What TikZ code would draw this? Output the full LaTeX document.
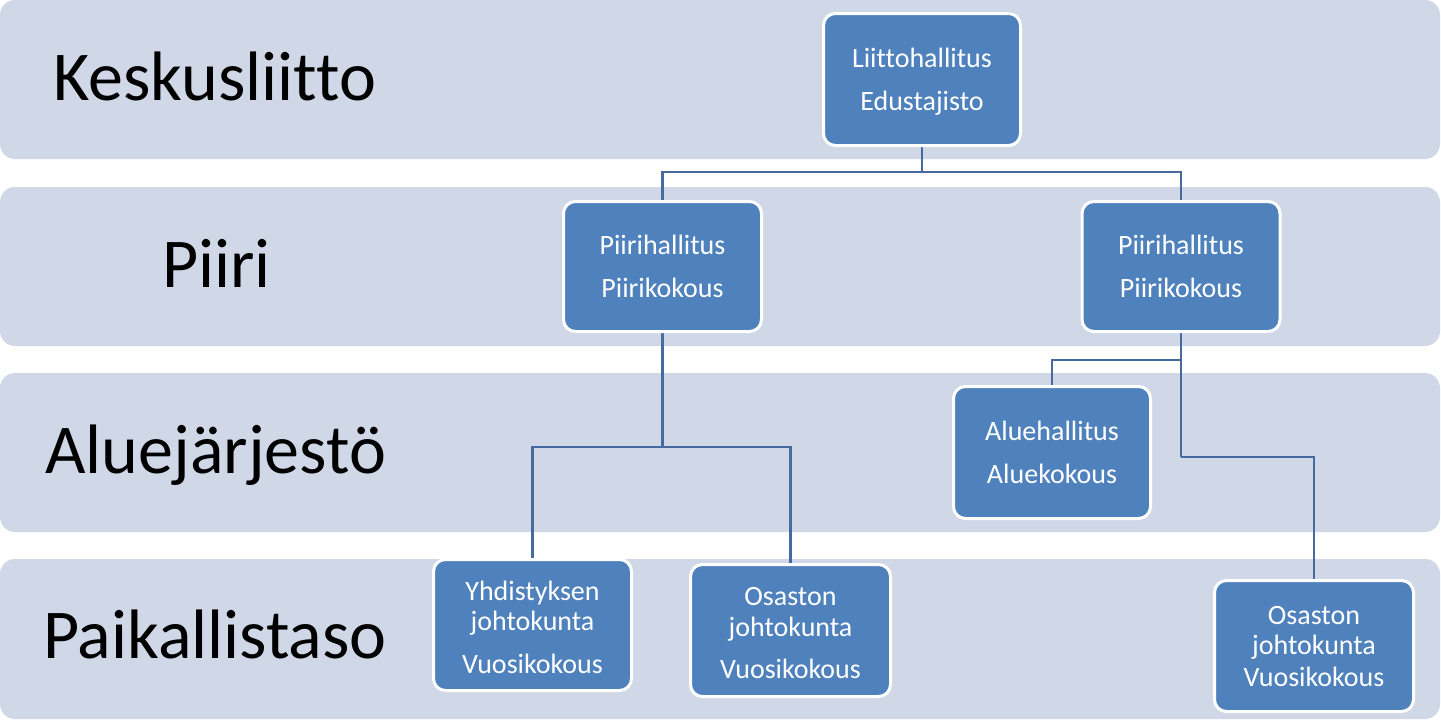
\documentclass[tikz,border=0pt]{standalone}
\usepackage{fontspec}
\setmainfont{Carlito}[Ligatures={NoCommon,NoRequired}]
\pgfdeclarelayer{bands}
\pgfdeclarelayer{links}
\pgfsetlayers{bands,links,main}
\definecolor{bandfill}{HTML}{D0D8E8}
\definecolor{boxfill}{HTML}{4F81BD}
\definecolor{linkcol}{HTML}{46699F}
\newcommand\capst{\rule{0pt}{18pt}}
\newcommand\capstb{\rule{0pt}{23pt}}
\begin{document}
\begin{tikzpicture}[x=1pt,y=-1pt,
  band/.style={fill=bandfill,rounded corners=15pt},
  orgbox/.style={draw=white,line width=3pt,fill=boxfill,rounded corners=12pt,
    text=white,align=center,font=\fontsize{28}{30}\selectfont,inner sep=0pt},
  levellabel/.style={anchor=base west,font=\fontsize{70}{82}\selectfont,inner sep=0pt},
  link/.style={draw=linkcol,line width=2.6pt}]
\useasboundingbox (0,0) rectangle (1441,720);
\begin{pgfonlayer}{bands}
  \fill[band] (0,0) rectangle (1440,159);
  \fill[band] (0,187) rectangle (1440,346);
  \fill[band] (0,373) rectangle (1440,532);
  \fill[band] (0,559) rectangle (1440,719);
\end{pgfonlayer}

\node[levellabel] (lvl1) at (53,100) {Keskusliitto};
\node[levellabel] (lvl2) at (162,287) {Piiri};
\node[levellabel] (lvl3) at (45,473) {Aluejärjestö};
\node[levellabel] (lvl4) at (43,658) {Paikallistaso};

\node[orgbox,minimum width=197pt,minimum height=132pt] (liitto) at (922,79.5)
  {\capst\smash{Liittohallitus}\\[13pt]\smash{Edustajisto}};
\node[orgbox,minimum width=198pt,minimum height=130pt] (p1) at (662.5,266.5)
  {\capst\smash{Piirihallitus}\\[13pt]\smash{Piirikokous}};
\node[orgbox,minimum width=198pt,minimum height=130pt] (p2) at (1181,266.5)
  {\capst\smash{Piirihallitus}\\[13pt]\smash{Piirikokous}};
\node[orgbox,minimum width=197pt,minimum height=132pt] (alue) at (1052,452.5)
  {\capst\smash{Aluehallitus}\\[13pt]\smash{Aluekokous}};
\node[orgbox,minimum width=198pt,minimum height=131pt] (yhd) at (532.5,625)
  {\capstb\smash{Yhdistyksen}\\\smash{johtokunta}\\[13pt]\smash{Vuosikokous}};
\node[orgbox,minimum width=200pt,minimum height=132pt] (osm) at (790.5,630.5)
  {\capstb\smash{Osaston}\\[1pt]\smash{johtokunta}\\[12pt]\smash{Vuosikokous}};
\node[orgbox,minimum width=199pt,minimum height=131pt] (osr) at (1314,646)
  {\capst\smash{Osaston}\\\smash{johtokunta}\\[2pt]\smash{Vuosikokous}};

\begin{pgfonlayer}{links}
  \draw[link] (liitto.south) -- (liitto.south |- 0,172) coordinate (j1);
  \draw[link] (j1) -| (p1.north);
  \draw[link] (j1) -| (p2.north);
  \draw[link] (p1.south) -- (p1.south |- 0,447) coordinate (j2);
  \draw[link] (j2) -| (yhd.north);
  \draw[link] (j2) -| (osm.north);
  \draw[link] (p2.south) -- (p2.south |- 0,360) coordinate (j3);
  \draw[link] (j3) -| (alue.north);
  \draw[link] (j3) -- (p2.south |- 0,457) coordinate (j4);
  \draw[link] (j4) -| (osr.north);
\end{pgfonlayer}
\end{tikzpicture}
\end{document}
